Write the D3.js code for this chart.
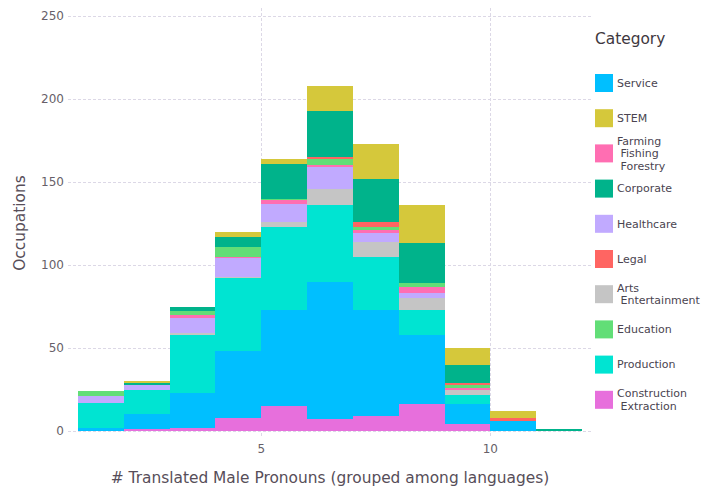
<!DOCTYPE html>
<html>
<head>
<meta charset="utf-8">
<script src="https://cdn.jsdelivr.net/npm/d3@7"></script>
<style>
  body { margin: 0; background: #fff; }
  svg { font-family: "DejaVu Sans", sans-serif; }
  text { white-space: pre; }
</style>
</head>
<body>
<div class="chart"></div>
<script>
// bin starts: each bin covers [start, start + 1)
const binStarts = [1, 2, 3, 4, 5, 6, 7, 8, 9, 10, 11];

// stacking order, bottom to top
const stackOrder = ["Construction Extraction", "Service", "Production", "Arts Entertainment",
    "Healthcare", "Farming Fishing Forestry", "Education", "Legal", "Corporate", "STEM"];

// legend order (as in the reference)
const legendOrder = ["Service", "STEM", "Farming Fishing Forestry", "Corporate", "Healthcare",
    "Legal", "Arts Entertainment", "Education", "Production", "Construction Extraction"];

const legendLabels = {
    "Service": ["Service"],
    "STEM": ["STEM"],
    "Farming Fishing Forestry": ["Farming", " Fishing", " Forestry"],
    "Corporate": ["Corporate"],
    "Healthcare": ["Healthcare"],
    "Legal": ["Legal"],
    "Arts Entertainment": ["Arts", " Entertainment"],
    "Education": ["Education"],
    "Production": ["Production"],
    "Construction Extraction": ["Construction", " Extraction"]
};

const construction = [0, 1, 2, 8, 15, 7, 9, 16, 4, 0, 0];
const service      = [2, 9, 21, 40, 58, 83, 64, 42, 12, 6, 0];
const production   = [15, 15, 35, 44, 50, 46, 32, 15, 6, 0, 0];
const arts         = [0, 0, 1, 1, 3, 10, 9, 7, 3, 0, 0];
const healthcare   = [4, 3, 9, 11, 11, 13, 5, 3, 0, 0, 0];
const farming      = [0, 0, 2, 1, 2, 1, 2, 4, 1, 0, 0];
const education    = [3, 0, 2, 6, 1, 4, 2, 2, 2, 0, 0];
const legal        = [0, 0, 0, 0, 0, 1, 3, 0, 1, 2, 0];
const corporate    = [0, 1, 3, 6, 21, 28, 26, 24, 11, 0, 1];
const stem         = [0, 1, 0, 3, 3, 15, 21, 23, 10, 4, 0];

const xTicks = [5, 10];
const yTicks = [0, 50, 100, 150, 200, 250];

const colors = {
    "Service": "#00bfff",
    "STEM": "#d5c83b",
    "Farming Fishing Forestry": "#ff6eb2",
    "Corporate": "#00b38b",
    "Healthcare": "#c1aaff",
    "Legal": "#ff6562",
    "Arts Entertainment": "#c5c5c5",
    "Education": "#62de77",
    "Production": "#00e4d2",
    "Construction Extraction": "#e76fdc"
};

const seriesValues = {
    "Construction Extraction": construction,
    "Service": service,
    "Production": production,
    "Arts Entertainment": arts,
    "Healthcare": healthcare,
    "Farming Fishing Forestry": farming,
    "Education": education,
    "Legal": legal,
    "Corporate": corporate,
    "STEM": stem
};

const width = 702, height = 489;
const plot = { left: 68, right: 592, top: 8, bottom: 438 };

// build the table for d3.stack from the arrays
const table = binStarts.map((b, i) => {
    const row = { bin: b };
    stackOrder.forEach(k => row[k] = seriesValues[k][i]);
    return row;
});

const x = d3.scaleLinear().domain([0.78, 12.22]).range([plot.left, plot.right]);
const y = d3.scaleLinear().domain([-4.2, 254.8]).range([plot.bottom, plot.top]);

const svg = d3.select(".chart")
    .append("svg")
    .attr("width", width)
    .attr("height", height)
    .attr("viewBox", [0, 0, width, height]);

// gridlines
const grid = svg.append("g").attr("stroke", "#dcd8e6").attr("stroke-dasharray", "3,2");
grid.selectAll(".hgrid")
    .data(yTicks)
    .join("line")
    .attr("x1", plot.left).attr("x2", plot.right)
    .attr("y1", d => Math.round(y(d)) + 0.5).attr("y2", d => Math.round(y(d)) + 0.5);
grid.selectAll(".vgrid")
    .data(xTicks)
    .join("line")
    .attr("y1", plot.top).attr("y2", plot.bottom)
    .attr("x1", d => Math.round(x(d)) + 0.5).attr("x2", d => Math.round(x(d)) + 0.5);

// stacked bars
const stacked = d3.stack().keys(stackOrder)(table);
svg.append("g")
    .selectAll("g")
    .data(stacked)
    .join("g")
    .attr("fill", d => colors[d.key])
    .selectAll("rect")
    .data(d => d)
    .join("rect")
    .attr("x", d => x(d.data.bin))
    .attr("width", d => x(d.data.bin + 1) - x(d.data.bin))
    .attr("y", d => y(d[1]))
    .attr("height", d => y(d[0]) - y(d[1]))
    .attr("shape-rendering", "crispEdges");

// y axis labels
svg.append("g")
    .selectAll("text")
    .data(yTicks)
    .join("text")
    .attr("x", 64)
    .attr("y", d => y(d))
    .attr("dy", "0.35em")
    .attr("text-anchor", "end")
    .attr("font-size", 12)
    .attr("fill", "#675f69")
    .text(d => d);

// x axis labels
svg.append("g")
    .selectAll("text")
    .data(xTicks)
    .join("text")
    .attr("x", d => x(d))
    .attr("y", 453)
    .attr("text-anchor", "middle")
    .attr("font-size", 12)
    .attr("fill", "#675f69")
    .text(d => d);

// axis titles
svg.append("text")
    .attr("x", 330)
    .attr("y", 483)
    .attr("text-anchor", "middle")
    .attr("font-size", 15.4)
    .attr("fill", "#574e59")
    .text("# Translated Male Pronouns (grouped among languages)");

svg.append("text")
    .attr("transform", `translate(25,${(plot.top + plot.bottom) / 2}) rotate(-90)`)
    .attr("text-anchor", "middle")
    .attr("font-size", 15.4)
    .attr("fill", "#574e59")
    .text("Occupations");

// legend
const legend = svg.append("g").attr("transform", "translate(595,0)");
legend.append("text")
    .attr("x", 0)
    .attr("y", 44)
    .attr("font-size", 15.4)
    .attr("fill", "#3e3840")
    .text("Category");

const items = legend.selectAll(".item")
    .data(legendOrder)
    .join("g")
    .attr("transform", (d, i) => `translate(0,${83 + i * 35.2})`);

items.append("rect")
    .attr("x", 0).attr("y", -9)
    .attr("width", 18).attr("height", 18)
    .attr("fill", d => colors[d]);

items.append("text")
    .attr("font-size", 11)
    .attr("fill", "#4a4450")
    .each(function (d) {
        const lines = legendLabels[d];
        const lh = 12.7;
        const start = -(lines.length - 1) * lh / 2;
        d3.select(this).selectAll("tspan")
            .data(lines)
            .join("tspan")
            .attr("x", 22)
            .attr("y", (l, i) => start + i * lh)
            .attr("dy", "0.35em")
            .text(l => l);
    });
</script>
</body>
</html>
